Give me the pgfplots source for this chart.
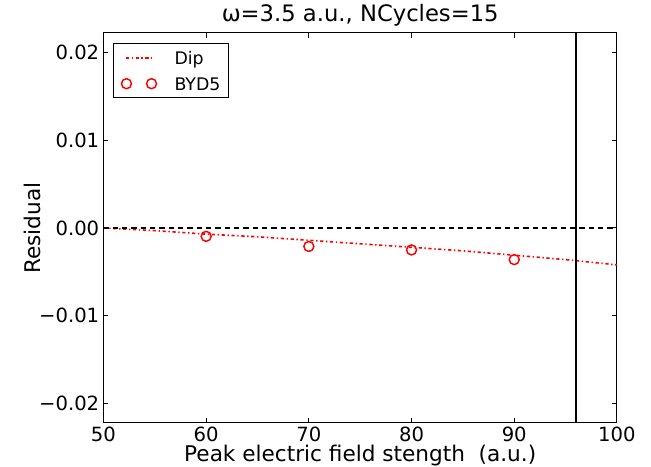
\documentclass[border=0pt]{standalone}
\usepackage{pgfplots}
\pgfplotsset{compat=1.18}
\usepackage{fontspec}
\setmainfont{DejaVu Sans}
\pgfplotsset{
  dipleg/.style={legend image code/.code={\draw[##1, red] (0pt,0pt) -- (20pt,0pt);}},
  markleg/.style={legend image code/.code={\draw[##1] plot coordinates {(0.6pt,0pt) (19.4pt,0pt)};}},
}
\begin{document}
\begin{tikzpicture}
\begin{axis}[
  at={(77.6pt,33pt)}, anchor=south west,
  scale only axis, width=385.1pt, height=292.5pt,
  xmin=50, xmax=100, ymin=-0.0222, ymax=0.0222,
  xtick={50,60,70,80,90,100}, xticklabels={50,60,70,80,90,100},
  ytick={-0.02,-0.01,0,0.01,0.02}, yticklabels={−0.02,−0.01,0.00,0.01,0.02},
  scaled y ticks=false,
  tick align=inside, xtick pos=both, ytick pos=both, major tick length=3.75pt,
  tick style={black, line width=0.75pt},
  axis line style={line width=0.75pt},
  ticklabel style={font=\fontsize{14.7}{17}\selectfont, inner sep=3pt},
  xlabel={Peak electric field stength\ \ (a.u.)},
  ylabel={Residual},
  label style={font=\fontsize{16.2}{19}\selectfont},
  xlabel style={at={(axis description cs:0.5,-0.1)}, anchor=base},
  ylabel style={at={(axis description cs:-0.122,0.5)}, anchor=base},
  title={ω=3.5 a.u., NCycles=15},
  every axis title shift=0pt,
  title style={font=\fontsize{17}{20}\selectfont, at={(axis description cs:0.5,1.029)}, anchor=base},
  legend style={at={(0.0185,0.974)}, anchor=north west, draw=black, line width=0.75pt,
    font=\fontsize{13}{15}\selectfont, inner xsep=6pt, inner ysep=5.8pt, row sep=10pt,
    nodes={inner sep=0pt, text height=9.5pt, text depth=0pt},
    /tikz/every odd column/.append style={column sep=13.5pt}},
  legend cell align=left,
]
\addplot[red, line width=1.2pt, dash pattern=on 2.4pt off 2pt on 1pt off 2pt, dipleg]
  coordinates {(50,0) (55,-0.0003) (60,-0.0007) (65,-0.0010) (70,-0.0014) (75,-0.0018) (80,-0.0022) (85,-0.0026) (90,-0.0031) (95,-0.0036) (100,-0.0042)};
\addlegendentry{Dip}
\addplot[red, only marks, mark=o, mark size=3.75pt, mark options={line width=1.1pt, solid}, markleg]
  coordinates {(60,-0.00095) (70,-0.0021) (80,-0.0025) (90,-0.0036)};
\addlegendentry{BYD5}
\addplot[black, line width=1.5pt, dash pattern=on 4pt off 3pt, forget plot] coordinates {(50,0) (100,0)};
\addplot[black, line width=1.9pt, forget plot] coordinates {(96,-0.0222) (96,0.0222)};
\end{axis}
\pgfresetboundingbox
\path[use as bounding box] (0,0) rectangle (488.25pt,350.25pt);
\end{tikzpicture}
\end{document}
